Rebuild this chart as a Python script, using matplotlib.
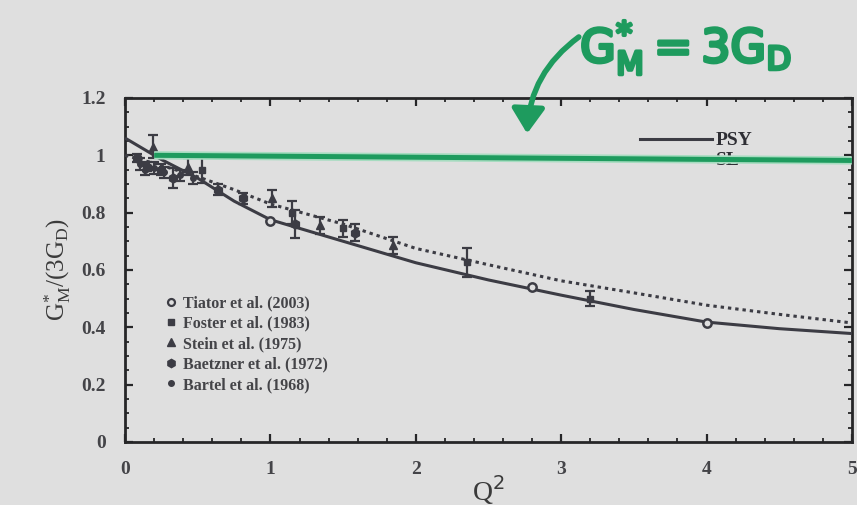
import matplotlib
matplotlib.use("Agg")
import matplotlib.pyplot as plt
from matplotlib.ticker import MultipleLocator, FixedLocator, FixedFormatter
from matplotlib.lines import Line2D
from matplotlib.patches import FancyArrowPatch
import matplotlib.patheffects as pe

# ---- data -------------------------------------------------------------
# model curves (PSY solid, SL dotted)
curve_q2 = [0.0, 0.25, 0.5, 0.75, 1.0, 1.5, 2.0, 2.5, 3.0, 3.5, 4.0, 4.5, 5.0]
psy_g = [1.06, 0.985, 0.92, 0.84, 0.775, 0.70, 0.625, 0.565, 0.512, 0.462, 0.418, 0.395, 0.378]
sl_g = [1.00, 0.965, 0.925, 0.88, 0.83, 0.76, 0.675, 0.618, 0.562, 0.52, 0.477, 0.445, 0.415]

# measurements
tiator_q2 = [1.0, 2.8, 4.0]
tiator_g = [0.77, 0.54, 0.415]

foster_q2 = [0.53, 1.15, 1.50, 2.35, 3.20]
foster_g = [0.95, 0.80, 0.745, 0.627, 0.50]
foster_err = [0.045, 0.04, 0.03, 0.05, 0.025]

stein_q2 = [0.19, 0.43, 1.01, 1.34, 1.84]
stein_g = [1.03, 0.96, 0.85, 0.756, 0.686]
stein_err = [0.04, 0.03, 0.03, 0.03, 0.03]

baetzner_q2 = [0.08, 0.15, 0.25, 0.33, 0.64, 0.81, 1.17, 1.58]
baetzner_g = [0.99, 0.96, 0.95, 0.92, 0.88, 0.85, 0.76, 0.73]
baetzner_err = [0.015, 0.015, 0.02, 0.035, 0.02, 0.02, 0.05, 0.03]

bartel_q2 = [0.10, 0.14, 0.20, 0.27, 0.38, 0.47]
bartel_g = [0.97, 0.95, 0.955, 0.94, 0.93, 0.92]
bartel_err = [0.02, 0.02, 0.02, 0.02, 0.02, 0.02]

# constant G_M* = 3 G_D reference line (hand drawn, slightly tilted)
ref_q2 = [0.2, 5.0]
ref_g = [1.0, 0.982]

x_ticks = [0, 1, 2, 3, 4, 5]
x_labels = ["0", "1", "2", "3", "4", "5"]
y_ticks = [0, 0.2, 0.4, 0.6, 0.8, 1.0, 1.2]
y_labels = ["0", "0.2", "0.4", "0.6", "0.8", "1", "1.2"]

legend_labels = ["Tiator et al. (2003)", "Foster et al. (1983)", "Stein et al. (1975)",
                 "Baetzner et al. (1972)", "Bartel et al. (1968)"]

# ---- style ------------------------------------------------------------
bg = "#dfdfdf"
ink = "#3c3c44"
green = "#1e9b5e"
serif = ["Liberation Serif", "DejaVu Serif"]

fig = plt.figure(figsize=(8.57, 5.05), dpi=100, facecolor=bg)
ax = fig.add_axes([0.146, 0.125, 0.848, 0.681], facecolor=bg)

ax.set_xlim(0, 5)
ax.set_ylim(0, 1.2)

# model curves
ax.plot(curve_q2, psy_g, color=ink, lw=2.2, solid_capstyle="butt", zorder=3)
ax.plot(curve_q2, sl_g, color=ink, lw=2.2, linestyle=(0, (1.1, 1.3)), zorder=3)

# data points
eb = dict(color=ink, ecolor=ink, elinewidth=1.6, capsize=3.5, capthick=1.6,
          linestyle="none", zorder=4)
ax.errorbar(foster_q2, foster_g, yerr=foster_err, marker="s", ms=5, **eb)
ax.errorbar(stein_q2, stein_g, yerr=stein_err, marker="^", ms=6, **eb)
ax.errorbar(baetzner_q2, baetzner_g, yerr=baetzner_err, marker="h", ms=6.5, **eb)
ax.errorbar(bartel_q2, bartel_g, yerr=bartel_err, marker="o", ms=4, **eb)
ax.plot(tiator_q2, tiator_g, linestyle="none", marker="o", ms=6, mfc=bg,
        mec=ink, mew=1.8, zorder=5)

# hand-drawn green reference line
ax.plot(ref_q2, ref_g, color="#a6dcc0", lw=6, solid_capstyle="butt", zorder=6)
ax.plot(ref_q2, ref_g, color=green, lw=3.6, solid_capstyle="butt", zorder=7)

# axes frame and ticks
for s in ax.spines.values():
    s.set_linewidth(2.0)
    s.set_color("#262628")
ax.xaxis.set_major_locator(FixedLocator(x_ticks))
ax.xaxis.set_major_formatter(FixedFormatter(x_labels))
ax.xaxis.set_minor_locator(MultipleLocator(0.2))
ax.yaxis.set_major_locator(FixedLocator(y_ticks))
ax.yaxis.set_major_formatter(FixedFormatter(y_labels))
ax.yaxis.set_minor_locator(MultipleLocator(0.05))
ax.tick_params(which="both", direction="in", top=True, right=True, colors="#262628")
ax.tick_params(which="major", length=6, width=1.6, pad=14, labelsize=14,
               labelcolor="#444448")
ax.tick_params(axis="y", which="major", pad=14)
ax.tick_params(which="minor", length=3, width=1.3)
for lab in ax.get_xticklabels() + ax.get_yticklabels():
    lab.set_family(serif)
    lab.set_fontweight("bold")

ax.set_xlabel(r"Q$^2$", family=serif, fontsize=20, color="#3a3a3a", labelpad=-4)
ax.set_ylabel(r"$\mathregular{G_M^{*}/(3G_D)}$", family=serif, fontsize=18,
              color="#3a3a3a", labelpad=6)

# data legend (lower left)
handles = [
    Line2D([], [], ls="none", marker="o", ms=5, mfc=bg, mec=ink, mew=1.6),
    Line2D([], [], ls="none", marker="s", ms=4.5, color=ink),
    Line2D([], [], ls="none", marker="^", ms=5.5, color=ink),
    Line2D([], [], ls="none", marker="h", ms=6, color=ink),
    Line2D([], [], ls="none", marker="o", ms=4, color=ink),
]
leg1 = ax.legend(handles, legend_labels, loc="upper left",
                 bbox_to_anchor=(0.045, 0.45), frameon=False, handlelength=0.6,
                 handletextpad=0.5, labelspacing=0.28, borderpad=0,
                 prop=dict(family=serif, size=11.5, weight="bold"))
for t in leg1.get_texts():
    t.set_color("#444448")
ax.add_artist(leg1)

# model legend (upper right)
mhandles = [Line2D([], [], color=ink, lw=2.2),
            Line2D([], [], color=ink, lw=2.2, linestyle=(0, (1.1, 1.3)))]
leg2 = ax.legend(mhandles, ["PSY", "SL"], loc="upper right",
                 bbox_to_anchor=(0.877, 0.93), frameon=False, handlelength=3.7,
                 handletextpad=0.2, labelspacing=0.12, borderpad=0,
                 prop=dict(family=serif, size=14, weight="bold"))
for t in leg2.get_texts():
    t.set_color("#2e2e34")
leg2.set_zorder(5)

# handwritten note with arrow
fig.text(0.677, 0.905, r"$\mathrm{G_M^{*}=3G_D}$", color=green, fontsize=33,
         ha="left", va="center",
         path_effects=[pe.withStroke(linewidth=2.5, foreground=green)])
fig.patches.append(FancyArrowPatch(
    (0.678, 0.93), (0.615, 0.73), transform=fig.transFigure,
    connectionstyle="arc3,rad=0.25", arrowstyle="-|>,head_length=6,head_width=4",
    color=green, lw=4, mutation_scale=2.5))

fig.savefig("out.png", dpi=100, facecolor=bg)
